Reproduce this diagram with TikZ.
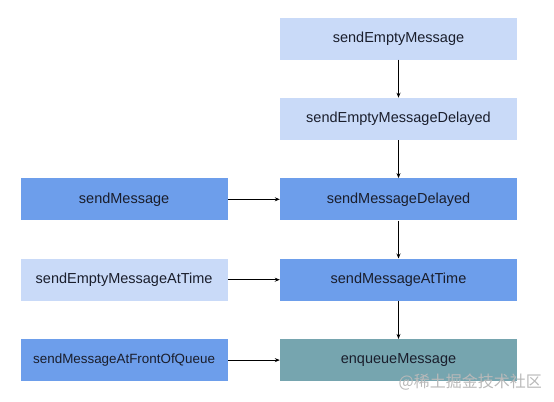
\documentclass[tikz,border=0pt]{standalone}
\usepackage{fontspec}
\setmainfont{Liberation Sans}
\newfontfamily\cjk{Noto Sans CJK SC}
\usetikzlibrary{positioning,arrows.meta}

\definecolor{lightblue}{HTML}{C9DAF8}
\definecolor{midblue}{HTML}{6D9EEB}
\definecolor{tealbox}{HTML}{76A5AF}
\definecolor{textdark}{HTML}{1A1E2C}

\tikzset{
	method/.style={
		minimum height=42bp,
		inner sep=0pt,
		text=textdark,
		font=\fontsize{14.5bp}{16bp}\selectfont
	},
	rightbox/.style={method, minimum width=237bp},
	leftbox/.style={method, minimum width=207bp},
	call/.style={-{Stealth[length=5bp,width=4bp]}, line width=0.8bp}
}

\begin{document}
\begin{tikzpicture}[x=1bp,y=-1bp,node distance=38bp and 52bp]
	\useasboundingbox (0,0) rectangle (554,401);
	% right column
	\node[rightbox, fill=lightblue] (sendEmpty) at (398.5,38.5) {sendEmptyMessage};
	\node[rightbox, fill=lightblue, below=of sendEmpty] (sendEmptyDelayed) {sendEmptyMessageDelayed};
	\node[rightbox, fill=midblue, below=of sendEmptyDelayed] (sendDelayed) {sendMessageDelayed};
	\node[rightbox, fill=midblue, below=of sendDelayed] (sendAtTime) {sendMessageAtTime};
	\node[rightbox, fill=tealbox, below=of sendAtTime] (enqueue) {enqueueMessage};
	% left column
	\node[leftbox, fill=midblue, left=of sendDelayed] (send) {sendMessage};
	\node[leftbox, fill=lightblue, left=of sendAtTime] (sendEmptyAtTime) {sendEmptyMessageAtTime};
	\node[leftbox, fill=midblue, left=of enqueue, font=\fontsize{13.4bp}{15bp}\selectfont] (sendFront) {sendMessageAtFrontOfQueue};

	\draw[call] (sendEmpty) -- (sendEmptyDelayed);
	\draw[call] (sendEmptyDelayed) -- (sendDelayed);
	\draw[call] (sendDelayed) -- (sendAtTime);
	\draw[call] (sendAtTime) -- (enqueue);
	\draw[call] (send) -- (sendDelayed);
	\draw[call] (sendEmptyAtTime) -- (sendAtTime);
	\draw[call] (sendFront) -- (enqueue);

	% watermark
	\node[anchor=east, text=gray!55, font=\cjk\fontsize{16bp}{18bp}\selectfont, inner sep=0pt] (mark) at (542,382) {@稀土掘金技术社区};
\end{tikzpicture}
\end{document}
